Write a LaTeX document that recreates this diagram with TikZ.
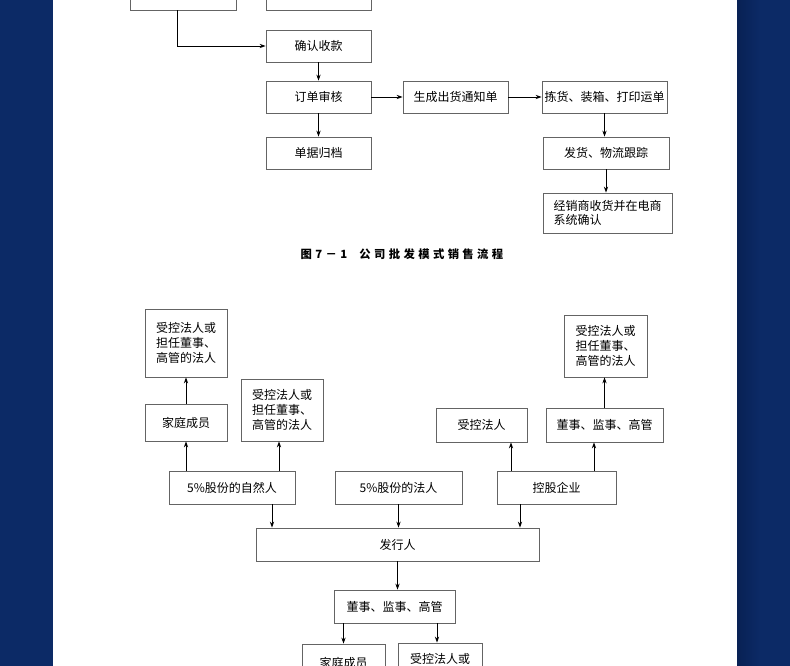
\documentclass[tikz,border=0pt]{standalone}
\usepackage{fontspec}
\setmainfont{Noto Sans CJK SC}
\newfontfamily\capfont[LetterSpace=30]{Noto Sans CJK SC}
\usetikzlibrary{arrows.meta,calc}

\definecolor{pageblue}{RGB}{12,42,102}
\definecolor{pageblued}{RGB}{8,33,84}
\definecolor{boxline}{RGB}{100,100,100}

\tikzset{
  box/.style={draw=boxline, line width=0.6pt, inner sep=0pt, minimum height=24pt,
    font=\fontsize{9}{11}\selectfont},
  arr/.style={-{Stealth[length=4.5pt,width=3.2pt]}, line width=0.6pt},
}

\begin{document}
\begin{tikzpicture}[x=0.75pt,y=-0.75pt]
\clip (0,0) rectangle (790,666);
\fill[pageblue] (0,0) rectangle (53,666);
\shade[left color=pageblued, right color=pageblue] (737,0) rectangle (760,666);
\fill[pageblue] (760,0) rectangle (790,666);

% sales flow (top)
\node[box, minimum width=79.5pt] (xsA) at (183,-6) {};
\node[box, minimum width=78.75pt] (xsB) at (318.5,-6) {};

\node[box, minimum width=78.75pt] (qrsk) at (318.5,46) {确认收款};
\node[box, minimum width=78.75pt] (ddsh) at (318.5,97) {订单审核};
\node[box, minimum width=78.75pt] (djgd) at (318.5,153) {单据归档};

\node[box, minimum width=78.75pt] (scch) at (455.5,97) {生成出货通知单};
\node[box, minimum width=93.75pt] (jhzx) at (604.5,97) {拣货、装箱、打印运单};
\node[box, minimum width=94.5pt] (fhwl) at (606,153) {发货、物流跟踪};
\node[box, minimum width=96.75pt, minimum height=30pt, align=left] (jxsh) at (607.5,213)
  {经销商收货并在电商\\系统确认};

\draw[arr] ($(xsA.south)+(-6,0)$) |- (qrsk.west);
\draw[arr] (qrsk) -- (ddsh);
\draw[arr] (ddsh) -- (djgd);
\draw[arr] (ddsh) -- (scch);
\draw[arr] (scch) -- (jhzx);
\draw[arr] (jhzx.south) -- (jhzx.south |- fhwl.north);
\draw[arr] (fhwl.south) -- (fhwl.south |- jxsh.north);

\node[font=\capfont\bfseries\fontsize{8.5}{10}\selectfont] (cap) at (402,254)
  {图7－1\hspace{9pt}公司批发模式销售流程};

% related parties (bottom)
\node[box, minimum width=61.5pt, minimum height=51pt, align=left] (skA) at (186,343)
  {受控法人或\\担任董事、\\高管的法人};
\node[box, minimum width=61.5pt, minimum height=27.75pt] (jtA) at (186,422.5) {家庭成员};
\node[box, minimum width=61.5pt, minimum height=46.5pt, align=left] (skB) at (282,410)
  {受控法人或\\担任董事、\\高管的法人};
\node[box, minimum width=94.5pt, minimum height=24.75pt] (zrr) at (232,487.5) {5\%股份的自然人};
\node[box, minimum width=95.25pt, minimum height=24.75pt] (frr) at (398.5,487.5) {5\%股份的法人};

\node[box, minimum width=62.25pt, minimum height=46.5pt, align=left] (skC) at (605.5,346)
  {受控法人或\\担任董事、\\高管的法人};
\node[box, minimum width=68.25pt, minimum height=25.5pt] (skfr) at (481.5,425) {受控法人};
\node[box, minimum width=87.75pt, minimum height=25.5pt] (djA) at (604.5,425) {董事、监事、高管};
\node[box, minimum width=89.25pt, minimum height=24.75pt] (kgqy) at (556.5,487.5) {控股企业};

\node[box, minimum width=212.25pt, minimum height=24.75pt] (fxr) at (397.5,544.5) {发行人};
\node[box, minimum width=90.75pt, minimum height=24.75pt] (djB) at (394.5,606.5) {董事、监事、高管};
\node[box, minimum width=62.25pt, minimum height=27.75pt] (jtB) at (343.5,662.5) {家庭成员};
\node[box, minimum width=63pt, minimum height=46.5pt, align=left] (skD) at (440,674)
  {受控法人或\\担任董事、\\高管的法人};

\draw[arr] (jtA) -- (skA);
\draw[arr] (jtA.south |- zrr.north) -- (jtA.south);
\draw[arr] ($(skB.south |- zrr.north)+(-3,0)$) coordinate (z2) -- (z2 |- skB.south);
\draw[arr] ($(kgqy.north)+(-45.5,0)$) coordinate (k1) -- (k1 |- skfr.south);
\draw[arr] ($(kgqy.north)+(37.5,0)$) coordinate (k2) -- (k2 |- djA.south);
\draw[arr] (djA) -- (djA.north |- skC.south);

\draw[arr] ($(zrr.south)+(40,0)$) coordinate (z1) -- (z1 |- fxr.north);
\draw[arr] (frr.south) -- (frr.south |- fxr.north);
\draw[arr] ($(kgqy.south)+(-36.5,0)$) coordinate (k3) -- (k3 |- fxr.north);
\draw[arr] (fxr.south) -- (fxr.south |- djB.north);
\draw[arr] (jtB.north |- djB.south) -- (jtB.north);
\draw[arr] ($(skD.north |- djB.south)+(-3,0)$) coordinate (d1) -- (d1 |- skD.north);
\end{tikzpicture}
\end{document}
